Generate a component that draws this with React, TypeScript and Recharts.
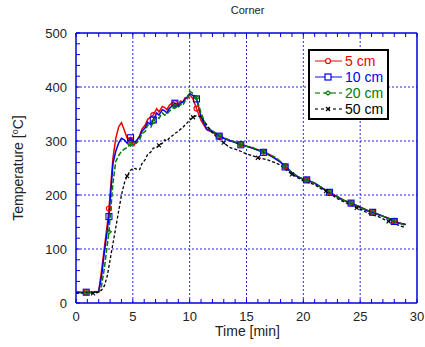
import React from "react";
import { LineChart, Line, XAxis, YAxis, ReferenceLine } from "recharts";

const times = [0,0.5,0.9,1.5,2,2.25,2.5,2.75,2.9,3.25,3.5,3.75,4,4.25,4.5,4.8,5.1,5.3,5.6,5.8,6.1,6.3,6.6,6.8,7.1,7.3,7.6,7.8,8.0,8.2,8.5,8.7,9.0,9.2,9.4,9.6,9.8,10,10.3,10.6,11,11.5,12,12.6,13,13.5,14,14.5,15,15.5,16,16.5,17,17.5,18,18.4,19,19.5,20,20.3,21,21.5,22,22.3,23,23.5,24.2,24.7,25.2,25.7,26.1,26.6,27.1,27.5,28,28.5,29];
const temp5 = [20,20,20,19,22,60,103,145,175,268,305,326,334,320,305,302,292,299,310,322,330,340,345,348,360,354,364,362,358,366,372,370,368,374,372,380,378,386,378,360,338,321,316,309,305,301,298,294,291,287,284,280,275,268,261,253,241,234,229,228,222,215,208,205,197,191,185,180,176,171,168,164,160,157,152,148,145];
const temp10 = [20,19,20,20,21,50,95,135,160,258,281,296,305,302,296,306,298,300,308,318,325,335,330,339,352,348,358,356,352,360,366,370,364,370,372,378,382,388,384,378,345,322,318,309,305,301,297,293,290,287,283,279,274,268,261,252,241,234,229,228,222,215,208,205,196,190,185,180,175,170,168,164,160,156,151,147,146];
const temp20 = [19,20,19,20,20,32,65,108,132,222,262,273,281,285,288,294,296,296,302,314,318,330,326,336,345,342,352,348,350,355,360,364,362,368,366,374,380,392,388,380,352,326,319,310,306,302,298,294,290,288,284,280,275,270,262,253,242,234,230,228,222,215,209,205,197,191,185,180,175,171,168,164,160,157,152,148,143];
const temp50 = [18,19,19,18,20,24,32,50,68,110,140,170,200,222,235,246,250,248,247,258,266,275,280,287,288,292,296,302,300,305,310,314,318,322,325,330,334,339,344,347,345,330,315,303,297,288,285,281,276,273,269,267,264,260,255,248,238,232,226,224,219,212,207,203,193,188,181,176,172,166,163,160,155,151,147,143,139];
const markerTimes = [0.9,2.9,4.8,6.8,8.7,10.6,12.6,14.5,16.5,18.4,20.3,22.3,24.2,26.1,28];
const crossTimes = [1.5,4.5,7.3,10.3,13,16,19,22,24.7,27.5];
const xMinorTicks = Array.from({ length: 31 }, (_, i) => i);
const yMinorTicks = Array.from({ length: 26 }, (_, i) => i * 20);
const xGrid = [5, 10, 15, 20, 25];
const yGrid = [100, 200, 300, 400];
const seriesNames = ["5 cm", "10 cm", "20 cm", "50 cm"];

const rows = times.map((t, i) => ({ t, c5: temp5[i], c10: temp10[i], c20: temp20[i], c50: temp50[i] }));

const AXIS = "#0000dd";
const GRID = "#2a2ae0";
const RED = "#ee0000";
const BLUE = "#0000ee";
const GREEN = "#007a00";
const BLACK = "#000000";
const FONT = "'Liberation Sans', Arial, sans-serif";

const isMarker = (t: number) => markerTimes.includes(t);
const isCross = (t: number) => crossTimes.includes(t);

const BottomTick = (p: any) => {
  const { x, y, payload } = p;
  const v = payload.value;
  return (
    <g>
      <line x1={x} y1={y} x2={x} y2={y - 4} stroke={AXIS} strokeWidth={1} />
      {v % 5 === 0 && (
        <text x={x} y={y + 18} textAnchor="middle" fontSize={13} fontFamily={FONT} fill="#222">{v}</text>
      )}
    </g>
  );
};
const TopTick = (p: any) => {
  const { x, y } = p;
  return <line x1={x} y1={y} x2={x} y2={y + 4} stroke={AXIS} strokeWidth={1} />;
};
const LeftTick = (p: any) => {
  const { x, y, payload } = p;
  const v = payload.value;
  return (
    <g>
      <line x1={x} y1={y} x2={x + 4} y2={y} stroke={AXIS} strokeWidth={1} />
      {v % 100 === 0 && (
        <text x={x - 9} y={y + 5} textAnchor="end" fontSize={13} fontFamily={FONT} fill="#222">{v}</text>
      )}
    </g>
  );
};
const RightTick = (p: any) => {
  const { x, y } = p;
  return <line x1={x} y1={y} x2={x - 4} y2={y} stroke={AXIS} strokeWidth={1} />;
};

const circleDot = (p: any) => {
  const { cx, cy, payload, index } = p;
  if (!isMarker(payload.t)) return <g key={"r" + index} />;
  return <circle key={"r" + index} cx={cx} cy={cy} r={2.5} fill="none" stroke={RED} strokeWidth={1.1} />;
};
const squareDot = (p: any) => {
  const { cx, cy, payload, index } = p;
  if (!isMarker(payload.t)) return <g key={"b" + index} />;
  return <rect key={"b" + index} x={cx - 3} y={cy - 3} width={6} height={6} fill="none" stroke={BLUE} strokeWidth={1.1} />;
};
const diamondDot = (p: any) => {
  const { cx, cy, payload, index } = p;
  if (!isMarker(payload.t)) return <g key={"g" + index} />;
  return <path key={"g" + index} d={`M${cx - 2.5},${cy} L${cx},${cy - 2} L${cx + 2.5},${cy} L${cx},${cy + 2} Z`} fill="none" stroke={GREEN} strokeWidth={1.1} />;
};
const crossDot = (p: any) => {
  const { cx, cy, payload, index } = p;
  if (!isCross(payload.t)) return <g key={"k" + index} />;
  return (
    <g key={"k" + index}>
      <line x1={cx - 2} y1={cy - 2} x2={cx + 2} y2={cy + 2} stroke={BLACK} strokeWidth={1.1} />
      <line x1={cx - 2} y1={cy + 2} x2={cx + 2} y2={cy - 2} stroke={BLACK} strokeWidth={1.1} />
    </g>
  );
};

const legendItems = [
  { name: seriesNames[0], color: RED, dash: "", marker: "circle" },
  { name: seriesNames[1], color: BLUE, dash: "", marker: "square" },
  { name: seriesNames[2], color: GREEN, dash: "5 3", marker: "diamond" },
  { name: seriesNames[3], color: BLACK, dash: "3 3", marker: "cross" },
];

const LegendMarker = ({ kind, color }: { kind: string; color: string }) => {
  const cx = 15, cy = 7;
  if (kind === "circle") return <circle cx={cx} cy={cy} r={2.5} fill="#fff" stroke={color} strokeWidth={1.2} />;
  if (kind === "square") return <rect x={cx - 3} y={cy - 3} width={6} height={6} fill="#fff" stroke={color} strokeWidth={1.2} />;
  if (kind === "diamond") return <path d={`M${cx - 2.5},${cy} L${cx},${cy - 2} L${cx + 2.5},${cy} L${cx},${cy + 2} Z`} fill="#fff" stroke={color} strokeWidth={1.2} />;
  return (
    <g>
      <line x1={cx - 2} y1={cy - 2} x2={cx + 2} y2={cy + 2} stroke={color} strokeWidth={1.2} />
      <line x1={cx - 2} y1={cy + 2} x2={cx + 2} y2={cy - 2} stroke={color} strokeWidth={1.2} />
    </g>
  );
};

export default function App() {
  return (
    <div style={{ position: "absolute", left: 0, top: 0, width: 425, height: 347, background: "#fff", fontFamily: FONT }}>
      <LineChart width={425} height={347} data={rows} margin={{ top: 32, right: 7, bottom: 0, left: 0 }}>
        <XAxis dataKey="t" type="number" domain={[0, 30]} ticks={xMinorTicks} interval={0} tickSize={0} tickMargin={0}
          tick={BottomTick} axisLine={{ stroke: AXIS, strokeWidth: 1.5 }} height={44} allowDataOverflow />
        <XAxis xAxisId="top" dataKey="t" type="number" orientation="top" domain={[0, 30]} ticks={xMinorTicks} interval={0}
          tickSize={0} tickMargin={0} tick={TopTick} axisLine={{ stroke: AXIS, strokeWidth: 1.5 }} height={1} />
        <YAxis type="number" domain={[0, 500]} ticks={yMinorTicks} interval={0} tickSize={0} tickMargin={0}
          tick={LeftTick} axisLine={{ stroke: AXIS, strokeWidth: 1.5 }} width={76} allowDataOverflow />
        <YAxis yAxisId="right" type="number" orientation="right" domain={[0, 500]} ticks={yMinorTicks} interval={0}
          tickSize={0} tickMargin={0} tick={RightTick} axisLine={{ stroke: AXIS, strokeWidth: 1.5 }} width={1} />
        {xGrid.map((v) => (
          <ReferenceLine key={"vx" + v} x={v} stroke={GRID} strokeDasharray="2 2" strokeWidth={1} />
        ))}
        {yGrid.map((v) => (
          <ReferenceLine key={"hy" + v} y={v} stroke={GRID} strokeDasharray="2 2" strokeWidth={1} />
        ))}
        <Line dataKey="c5" name={seriesNames[0]} stroke={RED} strokeWidth={1.5} dot={circleDot} isAnimationActive={false} />
        <Line dataKey="c10" name={seriesNames[1]} stroke={BLUE} strokeWidth={1.5} dot={squareDot} isAnimationActive={false} />
        <Line dataKey="c20" name={seriesNames[2]} stroke={GREEN} strokeWidth={1.5} strokeDasharray="5 2" dot={diamondDot} isAnimationActive={false} />
        <Line dataKey="c50" name={seriesNames[3]} stroke={BLACK} strokeWidth={1.3} strokeDasharray="3 2" dot={crossDot} isAnimationActive={false} />
      </LineChart>

      <div style={{ position: "absolute", left: 0, width: 425, top: 4, textAlign: "center", paddingLeft: 70, boxSizing: "border-box", fontSize: 11, color: "#222" }}>Corner</div>
      <div style={{ position: "absolute", left: 0, top: 323, width: 425, paddingLeft: 70, boxSizing: "border-box", textAlign: "center", fontSize: 14, color: "#222" }}>Time [min]</div>
      <div style={{ position: "absolute", left: 18, top: 168, transform: "translate(-50%, -50%) rotate(-90deg)", whiteSpace: "nowrap", fontSize: 14, color: "#222" }}>
        Temperature [<sup style={{ fontSize: 9 }}>o</sup>C]
      </div>

      <div style={{ position: "absolute", left: 308, top: 49, width: 81, height: 71, border: "2px solid #000", background: "#fff", boxSizing: "border-box" }}>
        {legendItems.map((it, i) => (
          <div key={it.name} style={{ position: "absolute", left: 3, top: 3 + i * 16, height: 14, display: "flex", alignItems: "center" }}>
            <svg width={30} height={14} style={{ display: "block" }}>
              <line x1={2} y1={7} x2={29} y2={7} stroke={it.color} strokeWidth={1.3} strokeDasharray={it.dash || undefined} opacity={0.75} />
              <LegendMarker kind={it.marker} color={it.color} />
            </svg>
            <span style={{ marginLeft: 2, fontSize: 14, color: it.color, lineHeight: "14px" }}>{it.name}</span>
          </div>
        ))}
      </div>
    </div>
  );
}
